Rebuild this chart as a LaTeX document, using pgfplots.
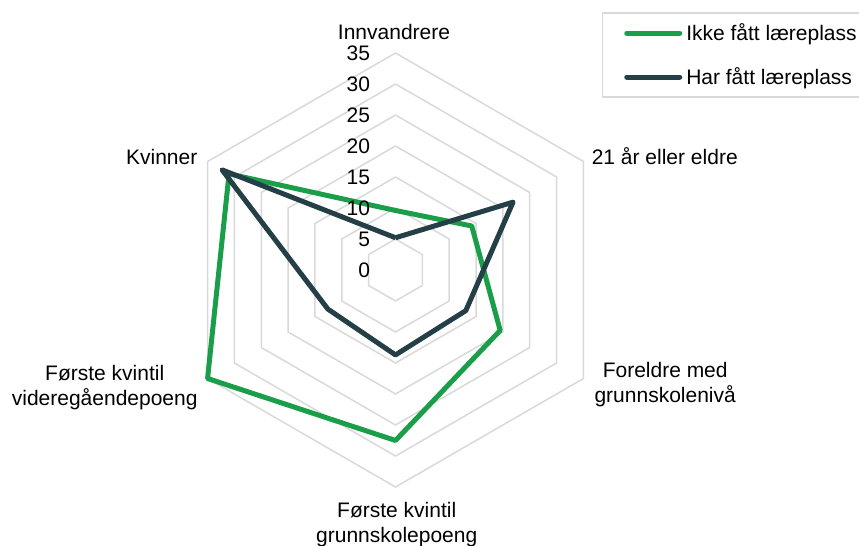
\documentclass[border=0pt]{standalone}
\usepackage{fontspec}
\setmainfont{Liberation Sans}
\usepackage{pgfplots}
\pgfplotsset{compat=1.18}
\definecolor{gridc}{RGB}{217,217,217}
\definecolor{greenc}{RGB}{27,158,74}
\definecolor{darkc}{RGB}{37,63,70}
\begin{document}
\begin{tikzpicture}[font=\fontsize{10.5}{12.5}\selectfont]
\useasboundingbox (-197.75pt,-138pt) rectangle (231.75pt,135pt);
\begin{axis}[
  anchor=origin, at={(0pt,0pt)},
  x=3.1pt, y=3.1pt,
  xmin=-36, xmax=36, ymin=-36, ymax=36,
  hide axis, clip=false,
  legend style={at={(axis description cs:0.9615,1.077)}, anchor=north west,
    draw=gridc, line width=0.75pt, fill=white,
    inner xsep=11pt, inner ysep=3pt, row sep=8pt,
    font=\fontsize{10.5}{12.5}\selectfont,
    cells={anchor=west}},
  legend image code/.code={\draw[#1,line cap=round] (0pt,0pt) -- (26.5pt,0pt);},
]
\addplot[gridc, line width=0.75pt, data cs=polar, forget plot] coordinates {(90,5)(30,5)(-30,5)(-90,5)(210,5)(150,5)(90,5)};
\addplot[gridc, line width=0.75pt, data cs=polar, forget plot] coordinates {(90,10)(30,10)(-30,10)(-90,10)(210,10)(150,10)(90,10)};
\addplot[gridc, line width=0.75pt, data cs=polar, forget plot] coordinates {(90,15)(30,15)(-30,15)(-90,15)(210,15)(150,15)(90,15)};
\addplot[gridc, line width=0.75pt, data cs=polar, forget plot] coordinates {(90,20)(30,20)(-30,20)(-90,20)(210,20)(150,20)(90,20)};
\addplot[gridc, line width=0.75pt, data cs=polar, forget plot] coordinates {(90,25)(30,25)(-30,25)(-90,25)(210,25)(150,25)(90,25)};
\addplot[gridc, line width=0.75pt, data cs=polar, forget plot] coordinates {(90,30)(30,30)(-30,30)(-90,30)(210,30)(150,30)(90,30)};
\addplot[gridc, line width=0.75pt, data cs=polar, forget plot] coordinates {(90,35)(30,35)(-30,35)(-90,35)(210,35)(150,35)(90,35)};
% data
\addplot[greenc, line width=2.5pt, line join=round, data cs=polar] coordinates {(90,9.6)(30,14.2)(-30,19.5)(-90,27.5)(210,35)(150,31)(90,9.6)};
\addlegendentry{\makebox[95pt][l]{Ikke fått læreplass}}
\addplot[darkc, line width=2.5pt, line join=round, data cs=polar] coordinates {(90,5.2)(30,21.9)(-30,13.1)(-90,13.7)(210,12.6)(150,32.3)(90,5.2)};
\addlegendentry{\makebox[95pt][l]{Har fått læreplass}}
% tick labels
\node[anchor=east, inner sep=0pt] at (axis cs:-4.03,0) {0};
\node[anchor=east, inner sep=0pt] at (axis cs:-4.03,5) {5};
\node[anchor=east, inner sep=0pt] at (axis cs:-4.03,10) {10};
\node[anchor=east, inner sep=0pt] at (axis cs:-4.03,15) {15};
\node[anchor=east, inner sep=0pt] at (axis cs:-4.03,20) {20};
\node[anchor=east, inner sep=0pt] at (axis cs:-4.03,25) {25};
\node[anchor=east, inner sep=0pt] at (axis cs:-4.03,30) {30};
\node[anchor=east, inner sep=0pt] at (axis cs:-4.03,35) {35};
% category labels
\node at (axis cs:-0.24,38.4) {Innvandrere};
\node[anchor=west, inner sep=0pt] at (axis cs:31.6,18.4) {21 år eller eldre};
\node[align=center] at (axis cs:43.5,-18.5) {Foreldre med\\grunnskolenivå};
\node[align=center] at (axis cs:0.2,-41.0) {Første kvintil\\grunnskolepoeng};
\node[align=center] at (axis cs:-46.9,-18.9) {Første kvintil\\videregåendepoeng};
\node[anchor=east, inner sep=0pt] at (axis cs:-31.9,18.2) {Kvinner};
\end{axis}
\end{tikzpicture}
\end{document}
